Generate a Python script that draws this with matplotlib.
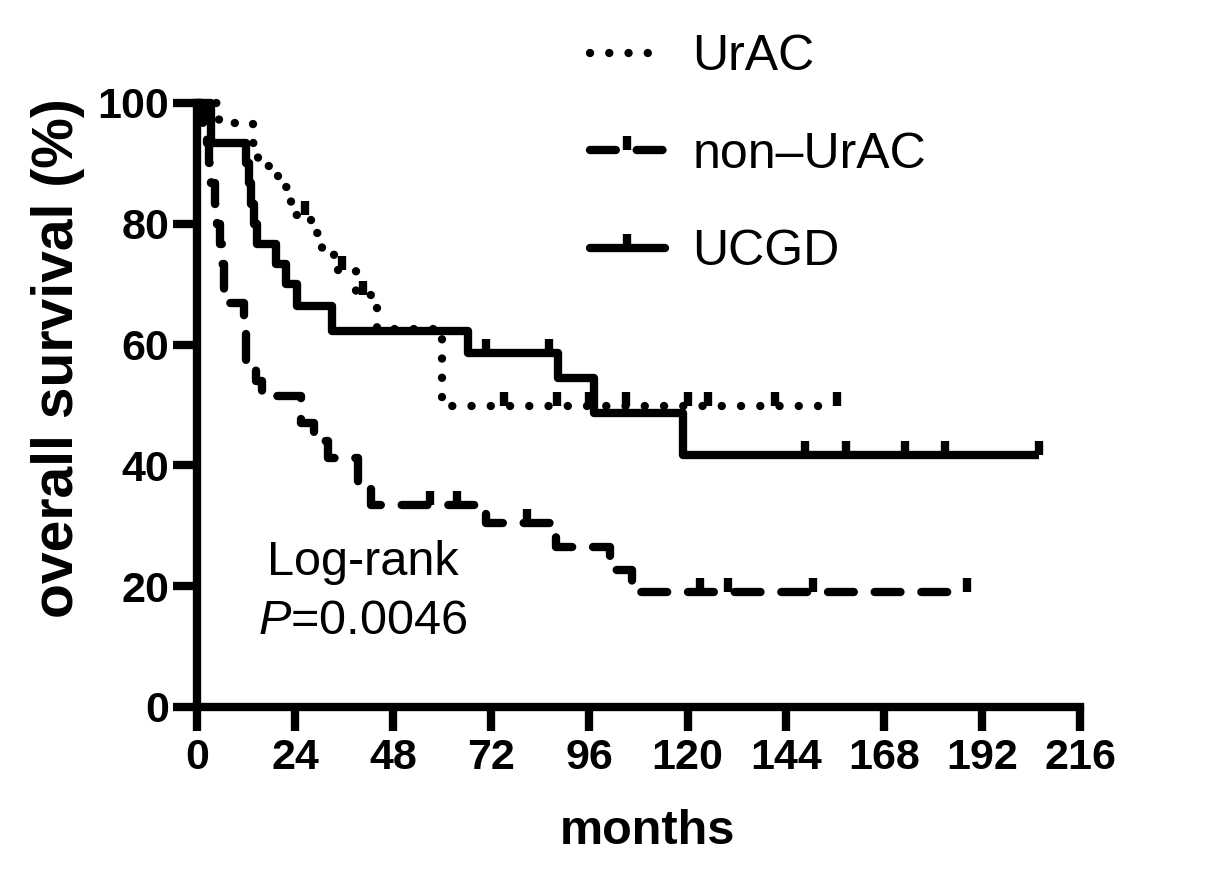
import matplotlib
matplotlib.use("Agg")
import matplotlib.pyplot as plt
import numpy as np
from matplotlib.lines import Line2D
from matplotlib.path import Path

# -----------------------------
# Data
# -----------------------------

urac_time = [0, 5.4, 13.7, 15, 19.8, 23, 27.8, 30.5, 33.5, 39, 44, 60]
urac_surv = [100, 96.7, 93.3, 89.5, 86.1, 81.5, 78.5, 75.5, 72.3, 68.2, 62.6, 49.8]
urac_end = 156.5
urac_cens = [26.5, 35.5, 40.5, 75, 88, 96, 105, 120, 125, 141.5, 156.5]

non_time = [0, 1.5, 2.5, 3, 3.5, 4.5, 5, 5.5, 6, 6.6,
            11.5, 12, 14.5, 16, 25.5, 28.6, 32, 39.5, 42.5,
            70.8, 87.7, 101, 106.5]
non_surv = [100, 96.7, 93.3, 90.0, 86.7, 83.3, 80.0, 76.7, 73.3, 66.9,
            63.3, 57.1, 54.0, 51.5, 47.0, 44.0, 41.2, 37.0, 33.4,
            30.5, 26.5, 22.7, 19.0]
non_end = 188.3
non_cens = [57, 63.5, 80.8, 123, 130, 150.7, 188.3]

ucgd_time = [0, 3.5, 12, 12.7, 13.3, 14, 14.6, 19.3, 21.7, 24.4, 33,
             66.2, 88.2, 97.2, 118.9]
ucgd_surv = [100, 93.3, 90.0, 86.7, 83.3, 80.0, 76.7, 73.3, 70.0, 66.4, 62.2,
             58.6, 54.5, 48.7, 41.8]
ucgd_end = 206
ucgd_cens = [70.8, 86.1, 148.8, 158.8, 173.2, 183, 206]

x_ticks = [0, 24, 48, 72, 96, 120, 144, 168, 192, 216]
y_ticks = [0, 20, 40, 60, 80, 100]

# -----------------------------
# Style
# -----------------------------

plt.rcParams["font.family"] = ["Liberation Sans", "DejaVu Sans"]
plt.rcParams["mathtext.fontset"] = "custom"
plt.rcParams["mathtext.rm"] = "Liberation Sans"
plt.rcParams["mathtext.it"] = "Liberation Sans:italic"

LW = 6
censor_marker = Path([(0, 0), (0, 1)])

dotted = (0, (0.01, 2.3))
dashed = (0, (3.1, 2.5))

fig = plt.figure(figsize=(12.05, 8.8), dpi=100)
ax = fig.add_axes([0.1635, 0.1966, 0.7328, 0.6864])


def draw_curve(times, surv, end, cens, ls):
    t = list(times) + [end]
    s = list(surv) + [surv[-1]]
    line, = ax.step(t, s, where="post", color="black", lw=LW,
                    linestyle=ls, clip_on=False,
                    dash_capstyle="round", solid_capstyle="butt")
    idx = np.searchsorted(times, cens, side="right") - 1
    cy = [surv[i] for i in idx]
    ax.plot(cens, cy, ls="none", marker=censor_marker, ms=20,
            mew=LW, mec="black", clip_on=False)
    return line


draw_curve(urac_time, urac_surv, urac_end, urac_cens, dotted)
draw_curve(non_time, non_surv, non_end, non_cens, dashed)
draw_curve(ucgd_time, ucgd_surv, ucgd_end, ucgd_cens, "-")

# -----------------------------
# Axes
# -----------------------------

ax.set_xlim(0, 216)
ax.set_ylim(0, 100)
ax.set_xticks(x_ticks)
ax.set_yticks(y_ticks)

for side in ["top", "right"]:
    ax.spines[side].set_visible(False)
for side in ["left", "bottom"]:
    ax.spines[side].set_linewidth(LW)
    ax.spines[side].set_capstyle("projecting")

ax.tick_params(width=LW, length=17, direction="out", labelsize=31)
ax.tick_params(axis="x", pad=5)
ax.tick_params(axis="y", pad=3)
for lab in ax.get_xticklabels() + ax.get_yticklabels():
    lab.set_fontweight("bold")

ax.set_xlabel("months", fontsize=35, fontweight="bold")
ax.set_ylabel("overall survival (%)", fontsize=41, fontweight="bold")
ax.xaxis.set_label_coords(0.51, -0.169)
ax.yaxis.set_label_coords(-0.127, 0.578)

ax.text(0.188, 0.24, "Log-rank", transform=ax.transAxes, fontsize=35,
        ha="center", va="center")
ax.text(0.188, 0.141, r"$P$=0.0046", transform=ax.transAxes, fontsize=35,
        ha="center", va="center")

# -----------------------------
# Legend
# -----------------------------

handles = [
    Line2D([], [], color="black", lw=LW, linestyle=dotted,
           dash_capstyle="round"),
    Line2D([], [], color="black", lw=LW, linestyle=dashed,
           dash_capstyle="round", marker=censor_marker, ms=20, mew=LW),
    Line2D([], [], color="black", lw=LW, solid_capstyle="round",
           marker=censor_marker, ms=20, mew=LW),
]
labels = ["UrAC", "non\u2013UrAC", "UCGD"]

fig.legend(handles, labels, loc="upper left",
           bbox_to_anchor=(0.452, 1.012), frameon=False, fontsize=36,
           handlelength=1.5, handletextpad=0.55, labelspacing=1.03,
           numpoints=1)

fig.savefig("out.png", dpi=100, facecolor="white")
